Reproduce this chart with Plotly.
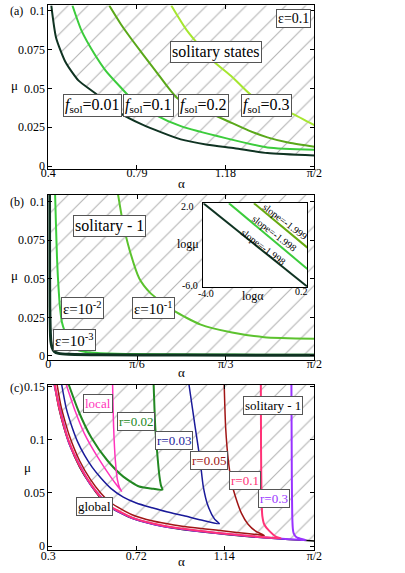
import plotly.graph_objects as go
import math

W, H = 405, 573
PI2 = math.pi / 2

# ---- panel (a): eps = 0.1, curves for different f_sol
a_f001 = [0.413, 0.434, 0.476, 0.532, 0.605, 0.716, 0.814, 0.983, 1.10, 1.22, 1.364, 1.571]
mu_f001 = [0.1032, 0.0825, 0.0667, 0.0551, 0.047, 0.0341, 0.0267, 0.0172, 0.0138, 0.0115, 0.0084, 0.0068]
a_f01 = [0.506, 0.547, 0.603, 0.652, 0.716, 0.772, 0.871, 0.983, 1.18, 1.364, 1.571]
mu_f01 = [0.1032, 0.0867, 0.072, 0.0614, 0.051, 0.0425, 0.033, 0.0257, 0.018, 0.012, 0.0105]
a_f02 = [0.668, 0.72, 0.772, 0.871, 0.969, 1.08, 1.181, 1.28, 1.364, 1.46, 1.571]
mu_f02 = [0.1032, 0.091, 0.0804, 0.0614, 0.0435, 0.036, 0.0295, 0.023, 0.0185, 0.015, 0.0125]
a_f03 = [0.941, 1.012, 1.124, 1.209, 1.293, 1.375, 1.469, 1.571]
mu_f03 = [0.1032, 0.0867, 0.0677, 0.0573, 0.0456, 0.040, 0.0341, 0.0263]

# ---- panel (b): different eps
a_e3 = [0.0070, 0.0074, 0.0085, 0.011, 0.015, 0.022, 0.036, 0.06, 0.12, 0.3, 0.8, 1.571]
mu_e3 = [0.1043, 0.06, 0.032, 0.018, 0.0095, 0.0055, 0.0028, 0.0017, 0.0011, 0.0008, 0.0006, 0.0005]
a_e2 = [0.040, 0.045, 0.051, 0.056, 0.061, 0.068, 0.080, 0.095, 0.108, 0.13, 0.178, 0.25, 0.4, 0.7, 1.1, 1.571]
mu_e2 = [0.1043, 0.0852, 0.064, 0.052, 0.0428, 0.0322, 0.022, 0.0165, 0.0131, 0.009, 0.0036, 0.0022, 0.0014, 0.0011, 0.0009, 0.0008]
a_e1 = [0.412, 0.44, 0.48, 0.537, 0.6, 0.65, 0.745, 0.896, 1.085, 1.274, 1.571]
mu_e1 = [0.1043, 0.0865, 0.0685, 0.0502, 0.041, 0.0364, 0.029, 0.0205, 0.0152, 0.0122, 0.0112]

# inset (log-log)
la_e3 = [-4.0, 0.2]
lm_e3 = [2.0, -6.0]
la_e2 = [-2.966, 0.2]
lm_e2 = [2.0, -4.30]
la_e1 = [-1.958, 0.2]
lm_e1 = [2.0, -2.26]

# ---- panel (c): global / local / different r
a_glob = [0.329, 0.35, 0.375, 0.40, 0.45, 0.50, 0.55, 0.60, 0.70, 0.80, 0.90, 1.00, 1.10, 1.20, 1.30, 1.40, 1.50, 1.571]
mu_glob = [0.1515, 0.130, 0.111, 0.096, 0.074, 0.058, 0.045, 0.036, 0.026, 0.0205, 0.0168, 0.0142, 0.0120, 0.0100, 0.0082, 0.0068, 0.0056, 0.0048]

a_r3 = [0.329, 0.40, 0.50, 0.60, 0.70, 0.80, 0.90, 1.00, 1.10, 1.20, 1.30, 1.40, 1.50, 1.53,
        1.50, 1.484, 1.472, 1.468, 1.465, 1.463, 1.461]
mu_r3 = [0.1515, 0.0965, 0.0585, 0.0365, 0.0264, 0.0208, 0.0171, 0.0145, 0.0123, 0.0103, 0.0085, 0.0071, 0.0059, 0.0056,
         0.0072, 0.0085, 0.012, 0.016, 0.0284, 0.0653, 0.1515]
a_r1 = [0.331, 0.35, 0.375, 0.40, 0.45, 0.50, 0.55, 0.60, 0.70, 0.80, 0.90, 1.00, 1.10, 1.20, 1.30, 1.41,
        1.392, 1.354, 1.332, 1.322, 1.318, 1.316, 1.315]
mu_r1 = [0.1515, 0.1315, 0.1125, 0.0975, 0.0752, 0.0592, 0.046, 0.037, 0.0268, 0.0212, 0.0174, 0.0148, 0.0126, 0.0106, 0.0088, 0.0072,
         0.0083, 0.0145, 0.020, 0.0284, 0.05, 0.09, 0.1515]
a_r05 = [0.342, 0.36, 0.38, 0.40, 0.45, 0.50, 0.55, 0.60, 0.70, 0.80, 0.90, 1.00, 1.10, 1.20, 1.30, 1.331,
         1.29, 1.254, 1.222, 1.193, 1.175, 1.16, 1.147, 1.14]
mu_r05 = [0.1515, 0.132, 0.117, 0.104, 0.080, 0.063, 0.050, 0.0405, 0.0295, 0.0235, 0.0198, 0.0172, 0.0150, 0.0128, 0.0108, 0.0100,
          0.014, 0.0205, 0.031, 0.0468, 0.060, 0.080, 0.111, 0.1515]
a_r03 = [0.364, 0.385, 0.413, 0.44, 0.474, 0.51, 0.551, 0.60, 0.658, 0.72, 0.796, 0.87, 0.948, 1.03, 1.117,
         1.094, 1.063, 1.04, 1.025, 1.002, 0.972]
mu_r03 = [0.1515, 0.13, 0.112, 0.098, 0.085, 0.074, 0.064, 0.054, 0.046, 0.0405, 0.036, 0.032, 0.0285, 0.0245, 0.021,
          0.0253, 0.0376, 0.056, 0.0807, 0.111, 0.1515]
a_r02 = [0.398, 0.444, 0.505, 0.581, 0.658, 0.734, 0.79, 0.845,
         0.838, 0.831, 0.823, 0.811, 0.803]
mu_r02 = [0.1515, 0.127, 0.102, 0.0807, 0.0653, 0.056, 0.0542, 0.053,
          0.057, 0.0653, 0.0807, 0.111, 0.1515]
a_loc = [0.386, 0.428, 0.474, 0.535, 0.597, 0.65,
         0.64, 0.63, 0.62, 0.612, 0.607]
mu_loc = [0.1515, 0.127, 0.105, 0.0838, 0.0653, 0.0514,
          0.055, 0.0622, 0.0807, 0.111, 0.1515]

FONT = "'Liberation Serif', 'Times New Roman', 'DejaVu Serif', serif"
HATCH = dict(shape="/", size=14, solidity=0.08, fgcolor="#6a6a6a", bgcolor="white")


def px(x, y):
    return x / W, 1 - y / H


fig = go.Figure()


def curve(xs, ys, color, width, ax):
    fig.add_trace(go.Scatter(x=xs, y=ys, mode="lines", xaxis="x" + ax, yaxis="y" + ax,
                             line=dict(color=color, width=width, shape="spline", smoothing=0.6),
                             hoverinfo="skip"))


def hatch(xs, ys, ytop, ax):
    # region above the lowest curve
    xx = list(xs) + [PI2 + 0.05, PI2 + 0.05, xs[0], xs[0]]
    yy = list(ys) + [ys[-1], ytop, ytop, ys[0]]
    fig.add_trace(go.Scatter(x=xx, y=yy, mode="lines", fill="toself", xaxis="x" + ax, yaxis="y" + ax,
                             line=dict(width=0, color="rgba(0,0,0,0)"),
                             fillcolor="white", fillpattern=HATCH, hoverinfo="skip"))


# (a)
hatch(a_f001, mu_f001, 0.12, "")
curve(a_f03, mu_f03, "#a6e630", 2, "")
curve(a_f02, mu_f02, "#5aa81a", 2, "")
curve(a_f01, mu_f01, "#3ccc3c", 2, "")
curve(a_f001, mu_f001, "#0f3322", 2, "")

# (b)
hatch(a_e3, mu_e3, 0.12, "2")
curve(a_e1, mu_e1, "#5cc22e", 2, "2")
curve(a_e2, mu_e2, "#3ccc3c", 2, "2")
curve(a_e3, mu_e3, "#0f3322", 3, "2")

# inset: white background then lines
fig.add_trace(go.Scatter(x=[-5, 1, 1, -5], y=[-7, -7, 3, 3], fill="toself", fillcolor="white",
                         mode="lines", line=dict(width=0), xaxis="x4", yaxis="y4", hoverinfo="skip"))
for xs, ys, c in [(la_e3, lm_e3, "#0f3322"), (la_e2, lm_e2, "#3ccc3c"), (la_e1, lm_e1, "#66aa11")]:
    fig.add_trace(go.Scatter(x=xs, y=ys, mode="lines", line=dict(color=c, width=2),
                             xaxis="x4", yaxis="y4", hoverinfo="skip"))

# (c)
hatch(a_glob, mu_glob, 0.2, "3")
curve(a_glob, mu_glob, "#000000", 1.5, "3")
curve(a_r3, mu_r3, "#9933ff", 2, "3")
curve(a_r1, mu_r1, "#ff3377", 2, "3")
curve(a_r05, mu_r05, "#a01515", 1.5, "3")
curve(a_r03, mu_r03, "#1a1a99", 1.5, "3")
curve(a_r02, mu_r02, "#228822", 2, "3")
curve(a_loc, mu_loc, "#ff33bb", 1.5, "3")

ax_common = dict(showline=True, linecolor="black", linewidth=1, mirror="allticks", ticks="inside",
                 ticklen=4, tickcolor="black", showgrid=False, zeroline=False,
                 tickfont=dict(family=FONT, size=12, color="black"))

xd = [42 / W, 319 / W]
fig.update_layout(
    width=W, height=H, margin=dict(l=0, r=0, t=0, b=0),
    paper_bgcolor="white", plot_bgcolor="white", showlegend=False,
    font=dict(family=FONT, color="black"),
    xaxis=dict(domain=xd, range=[0.4, PI2], anchor="y", tickvals=[0.4, 0.79, 1.18, PI2],
               ticktext=["0.4", "0.79", "1.18", "π/2"], ticklabelstandoff=-7, **ax_common),
    yaxis=dict(domain=[1 - 166.7 / H, 1 - 0.5 / H], range=[-0.0017, 0.1032], anchor="x",
               tickvals=[0, 0.025, 0.05, 0.075, 0.1], ticktext=["0", "0.025", "0.05", "0.075", "0.1"], **ax_common),
    xaxis2=dict(domain=xd, range=[0, PI2], anchor="y2", tickvals=[0, math.pi / 6, math.pi / 3, PI2],
                ticktext=["0", "π/6", "π/3", "π/2"], ticklabelstandoff=-7, **ax_common),
    yaxis2=dict(domain=[1 - 361 / H, 1 - 193.3 / H], range=[-0.0024, 0.1043], anchor="x2",
                tickvals=[0, 0.025, 0.05, 0.075, 0.1], ticktext=["0", "0.025", "0.05", "0.075", "0.1"], **ax_common),
    xaxis3=dict(domain=xd, range=[0.3, PI2], anchor="y3", tickvals=[0.3, 0.72, 1.14, PI2],
                ticktext=["0.3", "0.72", "1.14", "π/2"], ticklabelstandoff=-6, **ax_common),
    yaxis3=dict(domain=[1 - 555 / H, 1 - 386.7 / H], range=[-0.004, 0.1515], anchor="x3",
                tickvals=[0, 0.05, 0.1, 0.15], ticktext=["0", "0.05", "0.1", "0.15"], **ax_common),
    xaxis4=dict(domain=[203.3 / W, 311.7 / W], range=[-4, 0.2], anchor="y4", showticklabels=False,
                showline=True, linecolor="black", linewidth=1, mirror=True, ticks="", showgrid=False, zeroline=False),
    yaxis4=dict(domain=[1 - 286.7 / H, 1 - 201.7 / H], range=[-6, 2], anchor="x4", showticklabels=False,
                showline=True, linecolor="black", linewidth=1, mirror=True, ticks="", showgrid=False, zeroline=False),
)

ann = []


def label(text, x, y, size, color="black", box=True, angle=0):
    xp, yp = px(x, y)
    d = dict(text=text, x=xp, y=yp, xref="paper", yref="paper", showarrow=False,
             font=dict(family=FONT, size=size, color=color), textangle=angle,
             xanchor="center", yanchor="middle")
    if box:
        d.update(bgcolor="white", bordercolor="#555555", borderwidth=1, borderpad=1)
    ann.append(d)


# panel letters and axis titles
label("(a)", 9, 6, 12, box=False)
label("(b)", 9, 200, 12, box=False)
label("(c)", 9, 390, 12, box=False)
label("μ", 7, 82, 13, box=False)
label("μ", 7, 275, 13, box=False)
label("μ", 20, 471, 13, box=False)
label("α", 181, 182, 13, box=False)
label("α", 181, 374, 13, box=False)
label("α", 181, 566, 13, box=False)

# (a) labels
label("ε=0.1", 297, 14, 14)
label("solitary states", 216.5, 47.5, 16)
label("<i>f</i><sub>sol</sub>=0.01", 87.5, 102.5, 16)
label("<i>f</i><sub>sol</sub>=0.1", 146, 102.5, 16)
label("<i>f</i><sub>sol</sub>=0.2", 204, 102.5, 16)
label("<i>f</i><sub>sol</sub>=0.3", 269, 102.5, 16)

# (b) labels
label("solitary - 1", 106, 225, 16)
label("ε=10<sup>-2</sup>", 78, 308, 15)
label("ε=10<sup>-1</sup>", 151.5, 308, 15)
label("ε=10<sup>-3</sup>", 69, 341, 15)

# inset texts
label("2.0", 187, 205, 10, box=False)
label("-6.0", 190, 285, 10, box=False)
label("-4.0", 206, 294, 10, box=False)
label("0.2", 306, 292, 10, box=False)
label("logα", 255, 296, 12, box=False)
label("logμ", 187, 243, 12, box=False)
label("slope=-1.999", 288.5, 220, 10, box=False, angle=37)
label("slope=-1.998", 277.5, 232.5, 10, box=False, angle=37)
label("slope=-1.998", 266.5, 246.5, 10, box=False, angle=37)

# (c) labels
label("local", 93.3, 406, 13, color="#ff33bb")
label("r=0.02", 133, 424, 13, color="#228822")
label("r=0.03", 173.3, 443.5, 13, color="#1a1a99")
label("r=0.05", 209.3, 463.8, 13, color="#a01515")
label("r=0.1", 246.3, 484, 13, color="#ff3377")
label("r=0.3", 277, 502.5, 13, color="#9933ff")
label("solitary - 1", 276.3, 408, 13)
label("global", 90.3, 510, 13)

fig.update_layout(annotations=ann)
fig.write_html("out.html", config={"displayModeBar": False},
               post_script="document.body.style.margin='0';")
